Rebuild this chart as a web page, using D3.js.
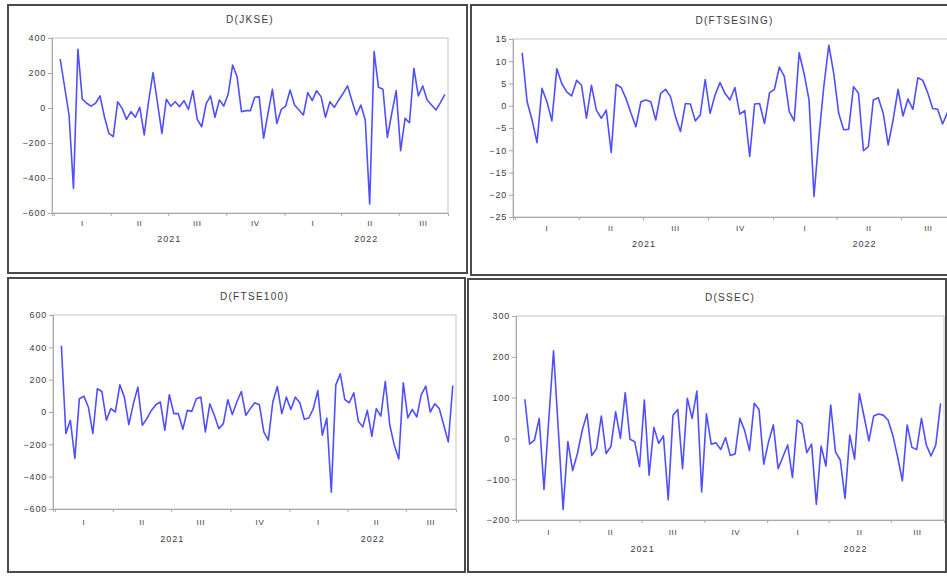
<!DOCTYPE html>
<html>
<head>
<meta charset="utf-8">
<script src="https://cdn.jsdelivr.net/npm/d3@7"></script>
<style>
  body { margin: 0; background: #fff; }
  svg text { font-family: "Liberation Sans", Arial, sans-serif; fill: #3c3c3c; }
</style>
</head>
<body>
<svg id="chart" width="947" height="576"></svg>
<script>
// weekly first differences, first observation in the week of 11 Jan 2021
const firstWeek = new Date(2021, 0, 11);
const axisStart = new Date(2020, 11, 29);
const axisEnd = new Date(2022, 8, 17);
const quarterNames = ["I", "II", "III", "IV"];
const years = [2021, 2022];

const jkse = [280, 120, -40, -460, 335, 51, 27, 11, 27, 69, -50, -145, -164, 36, -2, -65, -21, -53, 4, -154,
  40, 202, 30, -145, 50, 11, 36, 8, 42, -8, 99, -65, -107, 23, 69, -53, 46, 11, 80, 246,
  179, -21, -15, -15, 61, 65, -173, -30, 107, -88, -8, 11, 103, 17, -11, -40, 88, 42, 99, 65,
  -53, 36, 4, 46, 84, 126, 40, -40, 17, -69, -549, 322, 118, 107, -168, -30, 99, -244, -59, -84,
  227, 69, 126, 46, 17, -11, 31, 78];

const ftsesing = [11.9, 0.9, -3.2, -8.3, 3.9, 0.9, -3.4, 8.3, 5.0, 3.1, 2.2, 5.7, 4.6, -2.8, 4.6, -1.0, -2.8, -1.0, -10.5, 4.8,
  4.1, 1.6, -1.7, -4.7, 0.9, 1.3, 0.9, -3.2, 2.8, 3.7, 2.0, -2.5, -5.8, 0.5, 0.4, -3.4, -2.1, 5.9, -1.7, 2.4,
  5.2, 2.8, 1.3, 4.1, -1.9, -1.1, -11.4, 0.4, 0.5, -4.0, 2.9, 3.7, 8.7, 6.6, -1.3, -3.4, 11.9, 7.2, 1.3, -20.4,
  -7.0, 4.5, 13.6, 7.2, -1.7, -5.4, -5.3, 4.3, 2.8, -10.1, -9.2, 1.3, 1.8, -1.7, -8.8, -3.2, 3.7, -2.3, 1.5, -0.8,
  6.3, 5.7, 2.9, -0.6, -0.8, -4.1, -1.5, 0.5];

const ftse100 = [410, -133, -51, -287, 82, 98, 31, -133, 144, 127, -51, 21, 0, 168, 92, -78, 50, 154, -82, -41,
  10, 45, 62, -113, 107, -10, -10, -107, 10, 4, 82, 92, -123, 51, -20, -103, -72, 76, -16, 62,
  127, -20, 21, 57, 45, -123, -174, 62, 158, -10, 92, 16, 92, 57, -45, -37, 21, 133, -144, -37,
  -496, 168, 236, 76, 57, 119, -57, -92, 10, -150, 21, -25, 189, -82, -205, -291, 180, -37, 16, -31,
  107, 160, 0, 51, 21, -82, -185, 164];

const ssec = [96, -14, -4, 49, -125, 45, 215, 20, -174, -8, -79, -37, 20, 60, -42, -25, 55, -37, -20, 65,
  0, 112, -2, -8, -69, 94, -90, 27, -12, 6, -150, 57, 71, -74, 98, 49, 116, -131, 60, -14,
  -11, -27, 2, -42, -38, 49, 19, -30, 86, 71, -63, -8, 33, -74, -45, -16, -96, 45, 35, -35,
  -14, -162, -19, -68, 82, -33, -53, -147, 8, -51, 110, 53, -6, 55, 60, 57, 45, 8, -45, -104,
  33, -22, -27, 49, -16, -43, -16, 86];

const jkseTicks = [400, 200, 0, -200, -400, -600];
const ftsesingTicks = [15, 10, 5, 0, -5, -10, -15, -20, -25];
const ftse100Ticks = [600, 400, 200, 0, -200, -400, -600];
const ssecTicks = [300, 200, 100, 0, -100, -200];

const panels = [
  { title: "D(JKSE)", values: jkse, ticks: jkseTicks, frame: [8, 5, 459, 268],
    left: 52, right: 448, top: 38, bottom: 213, qy: 226, yy: 242 },
  { title: "D(FTSESING)", values: ftsesing, ticks: ftsesingTicks, frame: [471, 5, 484, 270],
    left: 513, right: 956, top: 39, bottom: 217, qy: 231, yy: 247 },
  { title: "D(FTSE100)", values: ftse100, ticks: ftse100Ticks, frame: [8, 278, 457, 294],
    left: 53, right: 456, top: 315, bottom: 509, qy: 525, yy: 542 },
  { title: "D(SSEC)", values: ssec, ticks: ssecTicks, frame: [468, 279, 478, 293],
    left: 516, right: 944, top: 316, bottom: 520, qy: 535, yy: 552 }
];

const svg = d3.select("#chart");
const quarterStarts = d3.timeMonth.every(3).range(axisStart, axisEnd);

panels.forEach(function (p) {
  const g = svg.append("g");

  g.append("rect")
    .attr("x", p.frame[0]).attr("y", p.frame[1])
    .attr("width", p.frame[2]).attr("height", p.frame[3])
    .attr("fill", "#fff").attr("stroke", "#4a4a4a").attr("stroke-width", 2);

  const x = d3.scaleTime().domain([axisStart, axisEnd]).range([p.left, p.right]);
  const y = d3.scaleLinear().domain(d3.extent(p.ticks)).range([p.bottom, p.top]);

  // plot box
  g.append("rect")
    .attr("x", p.left).attr("y", p.top)
    .attr("width", p.right - p.left).attr("height", p.bottom - p.top)
    .attr("fill", "none").attr("stroke", "#c4c4c4").attr("stroke-width", 1);

  g.append("text")
    .attr("x", (p.left + p.right) / 2)
    .attr("y", p.top - 15)
    .attr("text-anchor", "middle")
    .attr("font-size", 10)
    .attr("letter-spacing", 1.3)
    .text(p.title);

  const yAxis = g.append("g")
    .attr("transform", "translate(" + p.left + ",0)")
    .call(d3.axisLeft(y).tickValues(p.ticks).tickSize(4).tickPadding(2));
  yAxis.select(".domain").attr("stroke", "#a8a8a8");
  yAxis.selectAll(".tick line").attr("stroke", "#a8a8a8");
  yAxis.selectAll("text").attr("font-size", 9).attr("letter-spacing", 0.8).attr("fill", "#3c3c3c");

  const xAxis = g.append("g")
    .attr("transform", "translate(0," + p.bottom + ")")
    .call(d3.axisBottom(x).tickValues(quarterStarts).tickSize(3).tickFormat(""));
  xAxis.select(".domain").attr("stroke", "#a8a8a8");
  xAxis.selectAll(".tick line").attr("stroke", "#a8a8a8");

  // quarter labels centred in each quarter
  quarterStarts.forEach(function (q) {
    const next = d3.min([d3.timeMonth.offset(q, 3), axisEnd]);
    g.append("text")
      .attr("x", (x(q) + x(next)) / 2)
      .attr("y", p.qy)
      .attr("text-anchor", "middle")
      .attr("font-size", 8)
      .attr("letter-spacing", 0.6)
      .text(quarterNames[q.getMonth() / 3]);
  });

  years.forEach(function (yr) {
    const a = d3.max([new Date(yr, 0, 1), axisStart]);
    const b = d3.min([new Date(yr + 1, 0, 1), axisEnd]);
    g.append("text")
      .attr("x", (x(a) + x(b)) / 2)
      .attr("y", p.yy)
      .attr("text-anchor", "middle")
      .attr("font-size", 9)
      .attr("letter-spacing", 1)
      .text(yr);
  });

  const line = d3.line()
    .x(function (d, i) { return x(d3.timeWeek.offset(firstWeek, i)); })
    .y(function (d) { return y(d); });

  g.append("path")
    .datum(p.values)
    .attr("d", line)
    .attr("fill", "none")
    .attr("stroke", "#4f4fff")
    .attr("stroke-width", 1.6)
    .attr("stroke-linejoin", "round");
});
</script>
</body>
</html>
